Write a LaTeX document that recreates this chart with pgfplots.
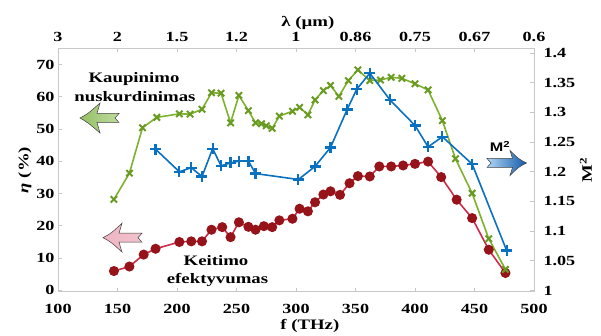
\documentclass[border=0pt]{standalone}
\usepackage{fontspec}
\setmainfont{Liberation Serif}[FakeStretch=1.3]
\newfontfamily\sansf{Liberation Sans}[FakeStretch=1.3]
\usepackage{pgfplots}
\pgfplotsset{compat=1.18}
\definecolor{gline}{RGB}{125,178,45}
\definecolor{gmark}{RGB}{105,155,35}
\definecolor{bline}{RGB}{10,112,192}
\definecolor{rline}{RGB}{205,45,75}
\definecolor{rmark}{RGB}{150,20,25}
\definecolor{axgray}{RGB}{200,200,200}
\pgfplotsset{base/.style={
  scale only axis, width=476bp, height=243.4bp,
  xmin=100, xmax=500,
  axis line style={axgray, line width=0.8bp},
  major tick style={axgray, line width=0.8bp},
  major tick length=4bp, tick align=inside,
  tick label style={font=\fontsize{14}{16}\selectfont\bfseries},
  label style={font=\fontsize{14.5}{17}\selectfont\bfseries},
  /pgf/number format/assume math mode=true,
  xtick={100,150,...,500},
}}
\begin{document}
\begin{tikzpicture}
\begin{axis}[base,
  ymin=-0.4, ymax=75, ytick={0,10,...,70},
  xticklabels={\textbf{100},\textbf{150},\textbf{200},\textbf{250},\textbf{300},\textbf{350},\textbf{400},\textbf{450},\textbf{500}},
  yticklabels={\textbf{0},\textbf{10},\textbf{20},\textbf{30},\textbf{40},\textbf{50},\textbf{60},\textbf{70}},
  xtick pos=bottom, ytick pos=left,
  xticklabel style={anchor=base, yshift=-21.5bp},
  xlabel={\textbf{f (THz)}},
  xlabel style={at={(axis description cs:0.529,0)}, anchor=base, yshift=-37.8bp},
  ylabel={\textbf{{\itshape η} (\%)}},
  ylabel style={at={(axis description cs:-0.0693,0.5)}, anchor=center},
]
\coordinate (O) at (rel axis cs:0,0);
\addplot[rline, line width=1.6bp, mark=*, mark size=4.2bp, mark options={fill=rmark, draw=rmark}] coordinates {
(147,6.0) (160,7.4) (172,11.1) (182,12.9) (202,15.0) (212,15.2) (221,15.2) (229,18.8) (238,19.6) (245,16.5) (252,21.1) (260,19.7) (266,18.8) (273,19.9) (280,19.6) (286,21.7) (297,22.2) (303,25.3) (310,24.5) (316,27.3) (323,29.7) (329,30.7) (337,29.6) (345,33.2) (352,35.4) (362,35.3) (370,38.4) (380,38.4) (390,38.7) (400,39.2) (411,39.9) (422,35.1) (435,28.1) (448,22.4) (462,12.6) (476,5.4)};
\addplot[gline, line width=1.6bp, mark=x, mark size=4.5bp, mark options={gmark, line width=2bp}] coordinates {
(147,28.2) (160,36.3) (171,50.4) (183,53.6) (202,54.7) (211,54.6) (221,56.1) (229,61.2) (237,61.1) (245,51.9) (252,60.4) (260,55.7) (266,51.9) (271,51.6) (275,51.0) (280,50.2) (286,54.0) (297,55.5) (303,56.7) (310,54.4) (316,59.0) (323,61.9) (329,63.5) (336,60.1) (344,65.0) (352,68.3) (362,65.0) (371,65.2) (380,66.0) (389,65.7) (400,64.0) (411,62.1) (423,52.6) (434,40.8) (448,30.1) (462,16.0) (476,6.5)};
\end{axis}
\begin{axis}[base,
  ymin=0.998, ymax=1.408,
  ytick={1,1.05,1.1,1.15,1.2,1.25,1.3,1.35,1.4},
  yticklabels={\textbf{1},\textbf{1.05},\textbf{1.1},\textbf{1.15},\textbf{1.2},\textbf{1.25},\textbf{1.3},\textbf{1.35},\textbf{1.4}},
  xticklabels={\textbf{3},\textbf{2},\textbf{1.5},\textbf{1.2},\textbf{1},\textbf{0.86},\textbf{0.75},\textbf{0.67},\textbf{0.6}},
  xtick pos=top, xticklabel pos=top, ytick pos=right, yticklabel pos=right,
  xticklabel style={anchor=base, yshift=6.6bp},
  yticklabel style={xshift=6bp},
  xlabel={\textbf{λ (µm)}},
  xlabel style={at={(axis description cs:0.525,1)}, anchor=base, yshift=21.6bp},
  ylabel={\textbf{M\textsuperscript{2}}},
  ylabel style={at={(axis description cs:1.109,0.5)}, anchor=center},
]
\addplot[bline, line width=1.6bp, mark=+, mark size=5.5bp, mark options={bline, line width=2.2bp}] coordinates {
(182,1.238) (202,1.200) (212,1.207) (221,1.192) (230,1.239) (237,1.210) (245,1.215) (252,1.218) (260,1.218) (266,1.197) (302,1.187) (316,1.209) (329,1.241) (343,1.305) (351,1.339) (362,1.366) (379,1.321) (400,1.278) (411,1.242) (423,1.259) (448,1.213) (477,1.0675)};
\end{axis}
\begin{scope}[shift={(O)}, x=1bp, y=1bp]
\path[use as bounding box] (-58,-39.3) rectangle (543,291.7);
% green arrow
\shade[draw={black!75}, line width=0.5bp, left color={rgb,255:red,150;green,190;blue,100}, middle color={rgb,255:red,55;green,105;blue,15}, right color={rgb,255:red,190;green,220;blue,160}]
 (22,173.7) .. controls (30,178) .. (42,188.7) -- (39,178.2) -- (61,178.2) -- (57,173.7) -- (61,169.2) -- (39,169.2) -- (42,158.7) .. controls (30,169) .. cycle;
% red arrow
\shade[draw={black!75}, line width=0.5bp, left color={rgb,255:red,240;green,180;blue,195}, middle color={rgb,255:red,190;green,45;blue,75}, right color={rgb,255:red,240;green,195;blue,205}]
 (45,54) .. controls (53,58.3) .. (64,68.4) -- (61,58.5) -- (84,58.5) -- (80,54) -- (84,49.5) -- (61,49.5) -- (64,39.6) .. controls (53,49.7) .. cycle;
% blue arrow
\shade[draw={black!75}, line width=0.5bp, left color={rgb,255:red,175;green,215;blue,245}, middle color={rgb,255:red,40;green,130;blue,210}, right color={rgb,255:red,20;green,90;blue,170}]
 (468.5,128.7) .. controls (461,132.5) .. (452,141.2) -- (454.5,133.2) -- (429,133.2) -- (433,128.7) -- (429,124.2) -- (454.5,124.2) -- (452,116.2) .. controls (461,125) .. cycle;
\node[anchor=base, inner sep=0, font=\fontsize{14.5}{17}\selectfont\bfseries] at (76,208.7) {Kaupinimo};
\node[anchor=base, inner sep=0, font=\fontsize{14.5}{17}\selectfont\bfseries] at (77,189.7) {nuskurdinimas};
\node[anchor=base, inner sep=0, font=\fontsize{14.5}{17}\selectfont\bfseries] at (158,25.7) {Keitimo};
\node[anchor=base, inner sep=0, font=\fontsize{14.5}{17}\selectfont\bfseries] at (159.5,8.4) {efektyvumas};
\node[anchor=base, inner sep=0, font=\fontsize{12.5}{15}\selectfont\sansf\bfseries] at (442,139.7) {M\textsuperscript{2}};
\end{scope}
\end{tikzpicture}
\end{document}
